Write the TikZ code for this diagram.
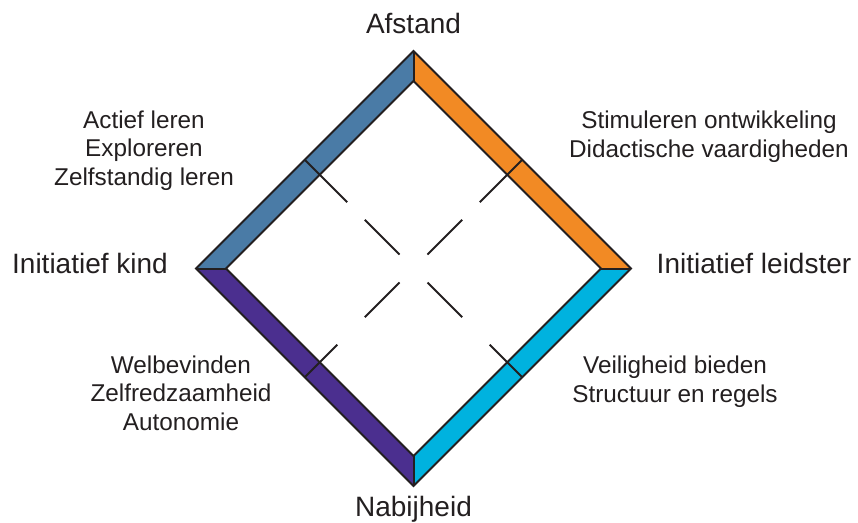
\documentclass[tikz,border=0pt]{standalone}
\usepackage{fontspec}
\setmainfont{Liberation Sans}
\usetikzlibrary{calc}
\definecolor{kindblauw}{HTML}{4A7BA6}
\definecolor{leidsteroranje}{HTML}{F28A24}
\definecolor{leidstercyaan}{HTML}{00B2DF}
\definecolor{kindpaars}{HTML}{4B2F8F}
\definecolor{tekst}{HTML}{231F20}

\begin{document}
\begin{tikzpicture}[x=1pt, y=-1pt,
	rand/.style={draw=tekst, line width=2pt, line join=miter},
	streep/.style={draw=tekst, line width=1.8pt},
	as/.style={text=tekst, font=\fontsize{28}{32}\selectfont, inner sep=0pt, anchor=base},
	kenmerk/.style={text=tekst, font=\fontsize{24.3}{28.3}\selectfont, align=center, inner sep=0pt, anchor=base}]
	\useasboundingbox (0,0) rectangle (858,522);
	\coordinate (M) at (413.5,268.5);
	\coordinate (To) at (413.5,51);   \coordinate (Ti) at (413.5,81);
	\coordinate (Ro) at (631,268.5);  \coordinate (Ri) at (601,268.5);
	\coordinate (Bo) at (413.5,486);  \coordinate (Bi) at (413.5,456);
	\coordinate (Lo) at (196,268.5);  \coordinate (Li) at (226,268.5);
	\fill [kindblauw] (Lo) -- (To) -- (Ti) -- (Li) -- cycle;
	\fill [leidsteroranje] (To) -- (Ro) -- (Ri) -- (Ti) -- cycle;
	\fill [leidstercyaan] (Ro) -- (Bo) -- (Bi) -- (Ri) -- cycle;
	\fill [kindpaars] (Bo) -- (Lo) -- (Li) -- (Bi) -- cycle;
	\draw [rand] (To) -- (Ro) -- (Bo) -- (Lo) -- cycle;
	\draw [rand] (Ti) -- (Ri) -- (Bi) -- (Li) -- cycle;
	\draw [rand] (To) -- (Ti) (Ro) -- (Ri) (Bo) -- (Bi) (Lo) -- (Li);
	\coordinate (zlb) at ($(Lo)!.5!(To)$);
	\coordinate (zrb) at ($(To)!.5!(Ro)$);
	\coordinate (zro) at ($(Ro)!.5!(Bo)$);
	\coordinate (zlo) at ($(Bo)!.5!(Lo)$);
	\foreach \z/\t in {zlb/60pt, zrb/60pt, zro/46pt, zlo/46pt} {
		\draw [streep] (\z) -- ($(\z)!\t!(M)$);
		\draw [streep] ($(\z)!85pt!(M)$) -- ($(\z)!134pt!(M)$);
	}
	\node [as] (afstand) at (413.5,33) {Afstand};
	\node [as] (nabijheid) at (413.5,516) {Nabijheid};
	\node [as] (kind) at (90,273) {Initiatief kind};
	\node [as] (leidster) at (754,273) {Initiatief leidster};
	\node [kenmerk] (leren) at (144,185) {Actief leren\\Exploreren\\Zelfstandig leren};
	\node [kenmerk] (stimuleren) at (709,157) {Stimuleren ontwikkeling\\Didactische vaardigheden};
	\node [kenmerk] (welbevinden) at (181,430) {Welbevinden\\Zelfredzaamheid\\Autonomie};
	\node [kenmerk] (veiligheid) at (675,402) {Veiligheid bieden\\Structuur en regels};
\end{tikzpicture}
\end{document}
